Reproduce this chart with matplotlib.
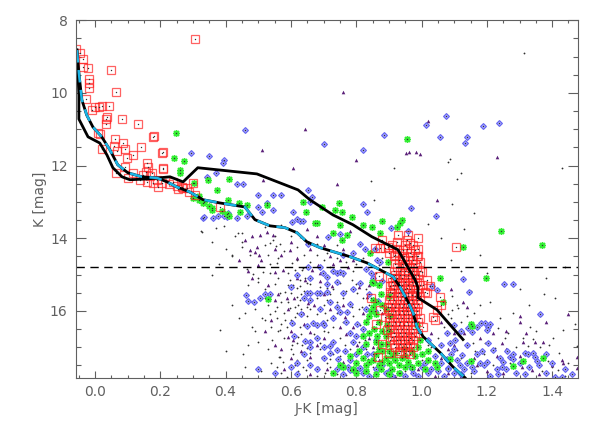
import matplotlib
matplotlib.use("Agg")
import matplotlib.pyplot as plt
from matplotlib.ticker import MultipleLocator

# isochrones (J-K, K)
iso1_jk = [-0.055, -0.049, -0.049, -0.021, 0.015, 0.037, 0.055, 0.083, 0.107, 0.159, 0.230, 0.270,
           0.315, 0.496, 0.622, 0.658, 0.729, 0.790, 0.848, 0.928, 0.980, 0.989, 0.989, 1.047, 1.127]
iso1_k = [8.82, 10.06, 10.72, 11.21, 11.38, 11.71, 12.06, 12.31, 12.39, 12.37, 12.31, 12.45,
          12.06, 12.23, 12.67, 12.94, 13.36, 13.63, 13.96, 14.32, 15.14, 15.36, 15.64, 15.97, 16.79]

iso2_jk = [-0.055, -0.049, -0.040, -0.025, -0.006, 0.021, 0.046, 0.070, 0.101, 0.144, 0.190, 0.221,
           0.251, 0.291, 0.331, 0.383, 0.459, 0.490, 0.536, 0.582, 0.619, 0.649, 0.689, 0.781,
           0.833, 0.873, 0.913, 0.934, 0.956, 0.974, 0.986, 1.005, 1.057, 1.096, 1.133]
iso2_k = [8.82, 9.45, 10.19, 10.61, 10.94, 11.21, 11.57, 11.98, 12.20, 12.31, 12.34, 12.45,
          12.59, 12.73, 12.94, 13.03, 13.14, 13.49, 13.66, 13.71, 13.85, 14.10, 14.26, 14.51,
          14.68, 14.87, 15.06, 15.34, 15.70, 16.05, 16.44, 16.71, 17.15, 17.54, 17.84]

k_limit = 14.8

# red squares
red = [(-0.057, 8.79), (-0.046, 8.90), (-0.037, 9.07), (-0.037, 9.28), (-0.021, 9.32), (-0.018, 9.62),
       (-0.018, 9.72), (-0.018, 9.86), (-0.028, 10.17), (0.049, 9.37), (0.064, 9.98), (0.306, 8.51),
       (0.0, 10.38), (-0.009, 10.47), (0.012, 10.38), (0.021, 10.36), (0.043, 10.36), (0.037, 10.66),
       (0.034, 10.86), (0.083, 10.72), (0.132, 10.86), (0.009, 11.1), (0.021, 11.55), (0.061, 11.27),
       (0.086, 11.38), (0.067, 11.6), (0.092, 11.55), (0.116, 11.71), (0.098, 11.79), (0.141, 11.49),
       (0.181, 11.18), (0.208, 11.62), (0.159, 11.93), (0.162, 12.03), (0.064, 12.2), (0.156, 12.17),
       (0.175, 12.2), (0.208, 12.06), (0.190, 12.39), (0.205, 12.47), (0.239, 12.45), (0.266, 12.58),
       (0.282, 12.61), (0.300, 12.47), (0.288, 12.74), (0.306, 12.80), (0.116, 12.2), (0.138, 12.39),
       (0.159, 12.45), (0.178, 12.47), (0.193, 12.58), (0.101, 12.34), (0.092, 12.03), (0.015, 11.13),
       (0.178, 11.21), (0.205, 11.65), (0.208, 12.1), (0.034, 10.72), (0.226, 12.52), (0.25, 12.55),
       (0.255, 12.65), (0.27, 12.62), (0.147, 12.25), (0.17, 12.3), (0.06, 11.45), (0.383, 13.13),
       (1.105, 14.25),
       (0.879, 14.05), (0.897, 14.24), (0.925, 14.1), (0.955, 14.05), (0.965, 14.13), (0.98, 14.32),
       (0.986, 14.5), (0.995, 14.65), (1.0, 14.93), (1.005, 15.28), (1.01, 15.47), (0.913, 15.28),
       (0.904, 15.47), (0.919, 15.09), (0.94, 14.54), (0.949, 14.73), (0.959, 14.93), (0.971, 15.09),
       (0.943, 14.32), (0.934, 15.0), (0.955, 15.36), (0.971, 15.56), (0.888, 14.27), (0.928, 13.9),
       (0.959, 13.9), (0.989, 14.0), (0.919, 14.46), (0.873, 14.27), (0.858, 14.27), (0.904, 15.33),
       (0.897, 15.89), (0.873, 15.97), (0.888, 16.16), (0.894, 16.52), (0.91, 16.71), (0.934, 16.8),
       (0.965, 16.74), (0.974, 16.99), (0.965, 17.2), (0.867, 17.26), (1.026, 15.33), (1.057, 15.61),
       (1.047, 15.97), (1.035, 16.16), (1.017, 15.5), (1.017, 15.14), (1.04, 16.24), (1.005, 16.44),
       (0.93, 14.6), (0.96, 14.6), (0.975, 14.6), (0.925, 14.8), (0.945, 14.8), (0.965, 14.8), (0.985, 14.8),
       (0.92, 15.0), (0.945, 15.0), (0.96, 15.0), (0.98, 15.0), (0.99, 15.0),
       (0.91, 15.2), (0.93, 15.2), (0.95, 15.2), (0.97, 15.2), (0.985, 15.2),
       (0.915, 15.4), (0.935, 15.4), (0.95, 15.4), (0.965, 15.4), (0.99, 15.4),
       (0.905, 15.6), (0.925, 15.6), (0.94, 15.6), (0.96, 15.6), (0.98, 15.6), (0.995, 15.6),
       (0.91, 15.8), (0.93, 15.8), (0.945, 15.8), (0.96, 15.8), (0.975, 15.8), (0.99, 15.8),
       (0.90, 16.0), (0.92, 16.0), (0.94, 16.0), (0.955, 16.0), (0.97, 16.0), (0.985, 16.0),
       (0.905, 16.2), (0.925, 16.2), (0.94, 16.2), (0.96, 16.2), (0.975, 16.2), (0.995, 16.2),
       (0.91, 16.4), (0.93, 16.4), (0.945, 16.4), (0.96, 16.4), (0.98, 16.4),
       (0.915, 16.6), (0.935, 16.6), (0.95, 16.6), (0.97, 16.6), (0.99, 16.6),
       (0.905, 16.8), (0.925, 16.8), (0.945, 16.8), (0.96, 16.8), (0.975, 16.8),
       (0.92, 17.0), (0.94, 17.0), (0.955, 17.0), (0.9, 17.15), (0.93, 17.15), (0.95, 17.15),
       (0.90, 14.4), (0.93, 14.4), (0.965, 14.4), (0.91, 14.2), (0.95, 14.2), (0.975, 14.2),
       (0.845, 15.65), (0.86, 16.35), (0.88, 16.9), (0.87, 15.05), (1.06, 15.85),
       (0.915, 14.5), (0.945, 14.5), (0.97, 14.5), (0.99, 14.5), (0.92, 14.7), (0.94, 14.7),
       (0.955, 14.7), (0.98, 14.7), (0.915, 14.9), (0.935, 14.9), (0.95, 14.9), (0.975, 14.9),
       (0.995, 14.9), (0.905, 15.1), (0.925, 15.1), (0.94, 15.1), (0.96, 15.1), (0.98, 15.1),
       (0.92, 15.3), (0.94, 15.3), (0.96, 15.3), (0.975, 15.3), (0.995, 15.3), (0.91, 15.5),
       (0.93, 15.5), (0.945, 15.5), (0.96, 15.5), (0.985, 15.5), (0.9, 15.7), (0.915, 15.7),
       (0.935, 15.7), (0.95, 15.7), (0.97, 15.7), (0.985, 15.7), (0.905, 15.9), (0.92, 15.9),
       (0.94, 15.9), (0.955, 15.9), (0.965, 15.9), (0.98, 15.9), (0.91, 16.1), (0.93, 16.1),
       (0.945, 16.1), (0.96, 16.1), (0.98, 16.1), (0.9, 16.3), (0.92, 16.3), (0.935, 16.3),
       (0.955, 16.3), (0.97, 16.3), (0.99, 16.3), (0.905, 16.5), (0.925, 16.5), (0.94, 16.5),
       (0.955, 16.5), (0.975, 16.5), (0.92, 16.7), (0.94, 16.7), (0.955, 16.7), (0.98, 16.7),
       (0.915, 16.9), (0.935, 16.9), (0.95, 16.9), (0.965, 16.9), (0.935, 17.1), (0.96, 17.1),
       (0.925, 14.3), (0.955, 14.3), (0.99, 14.3)]

# green asterisks
green = [(0.248, 11.1), (0.242, 11.79), (0.26, 12.12), (0.262, 12.2), (0.273, 11.87), (0.346, 12.39),
         (0.41, 12.37), (0.374, 12.67), (0.303, 12.47), (0.318, 12.85), (0.334, 12.99), (0.358, 13.22),
         (0.407, 12.94), (0.441, 13.03), (0.466, 13.08), (0.956, 11.27), (0.637, 12.99), (0.695, 13.13),
         (0.747, 13.03), (0.735, 13.22), (0.756, 13.27), (0.646, 13.27), (0.331, 13.03), (0.358, 13.17),
         (0.444, 13.27), (0.527, 13.08), (0.68, 13.57), (0.404, 13.33), (0.787, 13.41), (0.75, 13.63),
         (0.772, 13.9), (0.756, 14.05), (0.729, 13.85), (0.821, 13.63), (0.848, 13.68), (0.873, 13.85),
         (0.934, 13.57), (0.925, 13.68), (0.94, 13.49), (0.674, 13.57), (0.842, 14.41), (1.127, 14.24),
         (1.057, 15.09), (1.066, 15.75), (0.897, 14.65), (0.848, 15.2), (0.879, 13.54), (1.243, 13.79),
         (1.37, 14.18), (1.198, 15.09), (1.15, 16.36), (1.156, 16.42), (1.372, 17.29), (1.311, 17.37),
         (1.28, 17.51), (1.047, 17.54), (1.15, 17.37), (1.087, 17.32), (0.53, 15.67), (0.41, 13.38),
         (0.851, 15.23), (0.32, 12.95), (0.35, 13.1), (0.30, 12.9), (0.39, 13.25),
         (0.85, 15.9), (0.86, 16.1), (0.87, 16.3), (0.855, 16.5), (0.865, 16.7), (0.875, 16.9),
         (0.88, 17.1), (0.86, 17.2), (0.89, 17.3), (0.9, 17.45), (0.92, 17.35), (0.94, 17.3),
         (0.96, 17.4), (0.98, 17.25), (0.99, 17.45), (0.95, 17.55), (0.91, 17.6), (0.87, 17.5),
         (0.84, 17.4), (0.82, 17.3), (0.8, 17.45), (0.79, 17.6), (0.83, 17.65), (0.86, 17.75),
         (0.93, 17.7), (0.81, 17.1), (0.83, 16.9), (0.84, 16.6), (0.83, 16.3), (0.845, 16.0),
         (0.86, 15.75), (0.875, 15.55), (0.88, 16.55), (0.895, 16.9), (0.9, 17.1), (0.92, 17.15),
         (0.945, 17.05), (0.97, 17.1), (1.0, 17.2), (1.02, 17.35), (1.04, 17.45), (0.905, 16.15),
         (0.89, 15.95), (0.895, 16.4), (0.875, 17.6), (0.75, 17.5), (0.73, 17.7), (0.78, 17.25),
         (0.995, 16.8), (0.985, 16.4), (1.01, 17.6),
         (0.82, 16.7), (0.83, 17.5), (0.85, 17.35), (0.87, 17.05), (0.89, 16.7), (0.91, 17.25),
         (0.93, 17.5), (0.95, 17.25), (0.97, 17.55), (0.88, 17.4), (0.86, 16.85), (0.84, 16.15),
         (0.85, 15.7), (0.88, 15.85), (0.9, 16.55), (0.76, 17.55), (0.8, 17.7), (0.9, 17.75),
         (0.99, 17.0), (1.02, 17.1), (0.87, 15.3), (0.9, 15.6)]

# blue diamonds
blue = [(0.459, 11.02), (0.294, 11.65), (0.349, 11.73), (0.395, 11.84), (0.392, 11.93), (0.37, 12.2),
        (0.343, 12.31), (0.435, 12.5), (0.453, 12.5), (0.499, 12.8), (0.545, 12.8), (0.57, 12.8),
        (0.527, 13.03), (0.499, 13.13), (0.545, 13.22), (0.606, 13.27), (0.407, 13.3), (1.075, 10.63),
        (1.014, 10.88), (1.188, 10.9), (1.237, 10.82), (1.057, 11.21), (1.139, 11.21), (1.133, 11.38),
        (0.885, 11.16), (0.701, 11.41), (0.821, 11.57), (0.652, 12.67), (0.665, 12.86), (0.658, 13.0),
        (0.821, 13.05), (0.833, 13.29), (0.968, 13.16), (1.044, 13.38), (1.127, 15.11), (1.253, 15.27),
        (1.28, 15.27), (1.363, 16.08), (1.21, 16.36), (0.331, 13.45), (0.361, 13.45), (0.376, 13.4),
        (0.404, 13.43), (0.435, 13.45), (0.511, 13.27), (0.619, 13.47), (0.628, 13.52), (0.637, 13.52),
        (0.603, 13.55), (0.334, 13.43), (0.395, 13.4), (0.466, 13.4),
        (0.462, 15.56), (0.469, 15.73), (0.487, 15.75), (0.505, 15.64), (0.521, 15.53), (0.536, 15.53),
        (0.649, 15.5), (0.649, 16.41), (0.699, 14.95), (0.741, 14.95), (0.75, 14.93), (0.71, 15.06),
        (0.812, 15.23), (0.658, 15.5), (0.689, 15.5), (0.741, 15.89), (0.75, 16.02), (0.668, 16.33),
        (0.68, 16.38), (0.699, 16.33), (0.781, 16.6), (0.72, 16.98), (0.741, 17.07), (0.79, 16.85),
        (0.744, 17.34), (0.775, 17.54), (0.79, 17.62), (0.812, 17.57), (0.652, 14.79), (0.603, 16.33),
        (0.652, 14.15), (0.713, 13.96), (0.75, 13.88), (0.812, 14.15), (0.827, 14.29), (0.858, 14.29),
        (0.879, 15.17), (0.867, 15.72), (0.858, 16.0), (0.68, 15.5), (0.71, 15.47), (0.741, 15.2),
        (0.781, 15.8), (0.772, 16.02), (0.802, 16.35), (0.643, 16.82), (0.658, 16.85), (0.729, 16.85),
        (0.766, 17.1), (0.821, 16.99), (0.833, 17.18), (0.781, 17.64), (0.802, 17.64), (0.904, 17.64),
        (0.934, 17.72), (0.974, 17.72), (0.965, 17.51),
        (1.146, 15.47), (1.155, 16.57), (1.142, 16.46), (1.17, 16.44), (1.183, 16.33), (1.194, 16.33),
        (1.204, 16.44), (1.2, 16.52), (1.103, 16.79), (1.087, 16.88), (1.124, 17.21), (1.185, 17.12),
        (1.219, 17.07), (1.262, 17.12), (1.271, 17.26), (1.28, 17.34), (1.25, 17.4), (1.247, 17.54),
        (1.2, 17.4), (1.179, 17.43), (1.155, 17.54), (1.317, 17.15), (1.326, 17.2), (1.354, 17.37),
        (1.348, 17.26), (1.302, 17.43), (1.234, 17.75), (1.409, 17.81), (1.43, 17.81), (1.317, 17.75),
        (1.078, 16.6), (1.078, 17.34), (1.081, 17.57), (1.118, 17.48), (1.204, 16.88),
        (0.88, 17.5), (1.0, 17.55), (1.02, 17.7), (1.05, 17.65), (1.07, 17.8), (1.1, 17.7), (1.13, 17.6),
        (0.6, 17.55), (0.55, 17.7), (0.5, 17.6), (0.62, 17.75), (0.68, 17.6), (0.7, 17.3), (0.66, 17.0),
        (0.864, 14.6), (0.873, 14.65), (1.032, 15.33), (1.047, 15.42), (0.959, 13.79), (0.907, 13.71),
        (0.83, 14.85), (0.845, 14.95), (0.85, 15.1),
        (0.72, 17.15), (0.74, 17.6), (0.76, 17.75), (0.78, 17.35), (0.8, 17.2), (0.82, 17.7),
        (0.84, 17.8), (0.86, 17.6), (0.89, 17.7), (0.91, 17.8), (0.95, 17.8), (0.97, 17.6),
        (0.99, 17.8), (1.01, 17.45), (1.03, 17.6), (1.04, 17.25), (1.06, 17.45), (1.08, 17.6),
        (1.09, 17.2), (1.11, 17.35), (1.12, 17.75), (1.14, 17.45), (1.16, 17.65), (1.17, 17.2),
        (1.19, 17.5), (1.21, 17.8), (1.23, 17.6), (1.26, 17.6), (1.29, 17.7), (1.33, 17.55),
        (1.36, 17.5), (1.38, 17.7), (1.4, 17.45), (1.44, 17.6), (1.46, 17.75), (1.12, 16.55),
        (1.1, 16.4), (1.02, 16.8), (1.06, 16.95), (1.1, 17.05), (1.14, 16.95), (1.24, 17.3),
        (1.28, 17.2), (1.34, 17.15), (1.38, 17.2), (0.68, 16.75), (0.7, 17.0), (0.64, 17.2),
        (0.62, 17.45), (0.66, 17.5), (0.7, 16.4), (0.73, 16.2), (0.66, 15.7), (0.69, 15.95),
        (0.72, 15.75), (0.76, 15.5), (0.79, 15.4), (0.71, 15.25), (0.66, 15.1), (0.69, 14.8),
        (0.73, 14.9), (0.76, 14.95), (0.79, 14.4), (0.76, 14.45), (0.77, 16.3), (0.8, 16.7),
        (0.82, 16.5), (0.83, 15.95), (0.84, 15.55), (0.86, 16.8), (0.85, 17.2), (0.62, 15.0),
        (0.64, 15.65), (0.63, 16.1), (0.61, 16.7), (0.6, 15.35)]

# field stars: purple triangles and black dots
purple = [(0.475, 14.32), (0.49, 14.38), (0.502, 14.45), (0.496, 14.24), (0.505, 13.9), (0.527, 13.82),
          (0.545, 13.9), (0.551, 14.92), (0.576, 14.87), (0.551, 15.69), (0.588, 15.64), (0.591, 16.71),
          (0.607, 16.79), (0.597, 14.32), (0.643, 15.14), (0.665, 14.87), (0.683, 14.73), (0.775, 14.79),
          (0.726, 15.33), (0.652, 15.78), (0.833, 15.61), (0.766, 16.16), (0.637, 16.05), (0.658, 16.57),
          (0.75, 16.44), (0.833, 16.19), (0.802, 16.93), (0.658, 17.26), (0.759, 9.97), (0.643, 10.99),
          (1.02, 10.77), (0.953, 11.65), (0.962, 11.63), (0.983, 11.63), (0.995, 11.68), (0.8, 11.84),
          (1.231, 11.76), (0.741, 12.5), (1.047, 12.94), (0.511, 11.57), (0.515, 12.39), (0.607, 12.07),
          (1.127, 15.75), (1.302, 16.13), (1.363, 16.1), (1.311, 16.85), (1.348, 16.85), (1.372, 16.85),
          (1.247, 16.88), (1.308, 17.54), (1.338, 17.62), (1.4, 17.5), (1.433, 17.45), (1.476, 17.26),
          (1.476, 17.58), (1.32, 16.62), (1.26, 16.55), (1.3, 16.3), (1.38, 16.3), (1.45, 16.1),
          (1.17, 17.5), (1.2, 17.65), (1.25, 17.7), (1.06, 17.3), (1.08, 17.05), (1.1, 16.6),
          (0.72, 15.95), (0.7, 16.75), (0.76, 17.4), (0.85, 17.0), (0.62, 15.1), (0.69, 15.18),
          (0.73, 14.7), (0.6, 16.55), (0.55, 16.95), (0.58, 17.6), (0.66, 17.75), (0.8, 17.75),
          (0.98, 17.75), (1.04, 17.8), (0.48, 13.95), (0.44, 14.6), (0.46, 14.05), (0.51, 14.6),
          (0.57, 14.45), (0.6, 14.1), (0.63, 13.95), (0.66, 14.3), (0.7, 14.2), (0.76, 14.3), (0.78, 13.8),
          (0.48, 15.1), (0.5, 14.75), (0.53, 15.3), (0.56, 15.55), (0.59, 15.95), (0.61, 15.65),
          (0.64, 16.35), (0.67, 15.85), (0.7, 15.55), (0.73, 16.15), (0.76, 15.85), (0.79, 16.45),
          (0.82, 16.05), (0.84, 16.75), (0.63, 17.1), (0.68, 16.95), (0.71, 17.6), (0.74, 17.05),
          (0.77, 16.65), (0.8, 17.15), (0.57, 17.05), (0.54, 16.25), (0.6, 17.3), (0.52, 16.55),
          (0.66, 15.45), (0.69, 14.95), (0.72, 14.5), (0.75, 14.6), (0.79, 14.6), (0.81, 15.35),
          (0.84, 15.3), (0.86, 15.2), (0.85, 14.95), (0.88, 16.05), (0.87, 17.35), (0.92, 17.8),
          (0.99, 17.6), (1.03, 17.55), (1.08, 17.7), (1.12, 17.8), (1.16, 17.3), (1.23, 17.25),
          (1.26, 17.05), (1.3, 17.25), (1.36, 17.75), (1.43, 17.35), (1.1, 16.95), (1.13, 16.6),
          (1.18, 16.75), (1.22, 16.6), (1.06, 16.3), (1.03, 16.6), (1.09, 15.4), (1.14, 15.9),
          (0.47, 14.9), (0.55, 14.3), (0.62, 14.55), (0.68, 13.95), (0.65, 13.75)]

black = [(0.328, 13.82), (0.358, 14.1), (0.438, 13.85), (0.45, 13.85), (0.42, 14.45), (0.45, 14.24),
         (0.475, 14.45), (0.521, 14.18), (0.536, 14.13), (0.545, 14.05), (0.554, 14.21), (0.567, 14.15),
         (0.466, 14.84), (0.5, 15.09), (0.515, 14.92), (0.536, 14.95), (0.557, 14.68), (0.591, 14.95),
         (0.597, 15.14), (0.607, 15.28), (0.582, 15.47), (0.567, 15.5), (0.619, 15.61), (0.622, 15.83),
         (0.597, 15.91), (0.557, 15.89), (0.536, 16.1), (0.511, 16.19), (0.521, 16.24), (0.557, 16.19),
         (0.582, 16.24), (0.588, 16.44), (0.567, 16.52), (0.603, 16.93), (0.622, 16.71), (0.542, 16.79),
         (0.383, 16.52), (0.453, 17.2), (0.567, 17.26), (0.576, 17.4), (0.613, 17.48), (0.622, 17.67),
         (0.588, 17.81), (0.628, 15.33), (0.634, 14.87), (0.643, 15.09), (0.649, 15.23), (0.613, 16.16),
         (0.637, 16.05), (0.649, 15.89), (0.643, 16.88), (0.634, 16.93), (0.649, 17.02), (0.646, 17.62),
         (0.619, 14.59), (0.536, 14.7), (0.483, 14.98), (0.325, 13.79), (0.37, 13.71), (0.395, 13.66),
         (0.42, 14.48), (0.564, 17.26), (0.557, 17.54), (0.603, 14.68), (0.612, 14.87), (0.637, 14.81),
         (0.628, 15.14), (0.72, 14.79), (0.787, 15.14), (0.75, 15.23), (0.71, 15.36), (0.619, 15.36),
         (0.628, 15.69), (0.68, 15.64), (0.71, 15.69), (0.76, 15.64), (0.802, 15.5), (0.818, 15.89),
         (0.787, 15.89), (0.729, 16.16), (0.704, 16.05), (0.612, 15.9), (0.628, 16.44), (0.714, 16.57),
         (0.812, 16.38), (0.827, 16.79), (0.766, 16.93), (0.689, 16.88), (0.649, 16.85), (0.619, 16.88),
         (0.607, 17.2), (0.695, 17.26), (0.72, 17.34), (0.683, 17.54), (0.637, 17.54), (0.704, 17.7),
         (0.818, 17.26), (0.836, 17.34), (0.622, 17.75), (0.741, 17.73), (1.314, 8.9), (1.375, 15.53),
         (1.112, 15.91), (1.093, 15.99), (1.081, 16.1), (1.234, 16.46), (1.265, 16.6), (1.332, 16.44),
         (1.433, 16.52), (1.403, 16.74), (1.326, 16.96), (1.225, 17.02), (1.194, 16.88), (1.164, 17.12),
         (1.158, 16.88), (1.139, 16.99), (1.109, 17.07), (1.369, 17.67), (1.4, 17.56), (1.418, 17.62),
         (1.387, 17.37), (1.093, 15.59), (1.109, 15.83), (1.087, 16.35), (1.461, 17.75), (1.476, 16.96),
         (1.363, 17.0), (1.41, 17.76), (1.44, 17.8), (1.256, 16.74), (1.341, 16.77), (1.087, 11.82),
         (1.081, 11.9), (1.121, 12.2), (1.109, 12.37), (0.845, 12.42), (1.43, 12.07), (0.855, 12.94),
         (1.093, 13.05), (0.916, 12.07), (0.68, 14.45), (0.7, 14.6), (0.74, 14.55), (0.77, 14.65),
         (0.79, 14.9), (0.8, 14.7), (0.82, 14.55), (0.83, 15.4), (0.84, 16.2), (0.82, 16.6),
         (0.47, 15.3), (0.49, 15.95), (0.52, 15.4), (0.53, 15.85), (0.54, 16.45), (0.55, 16.0),
         (0.56, 15.1), (0.57, 15.75), (0.58, 16.05), (0.59, 15.3), (0.6, 15.5), (0.61, 16.35),
         (0.62, 16.05), (0.63, 15.95), (0.64, 15.45), (0.65, 16.15), (0.66, 15.95), (0.67, 16.65),
         (0.68, 16.1), (0.69, 15.35), (0.7, 15.85), (0.71, 16.25), (0.72, 15.55), (0.73, 16.45),
         (0.74, 15.75), (0.75, 16.75), (0.76, 16.3), (0.77, 15.45), (0.78, 16.55), (0.79, 16.15),
         (0.8, 15.25), (0.81, 16.85), (0.82, 15.65), (0.83, 17.05), (0.84, 15.85), (0.85, 16.45),
         (0.86, 14.95), (0.87, 14.75), (0.88, 14.55), (0.66, 17.15), (0.69, 17.05), (0.72, 17.55),
         (0.75, 17.25), (0.78, 17.05), (0.8, 17.35), (0.62, 17.35), (0.6, 17.05), (0.58, 16.75),
         (0.56, 16.55), (0.53, 17.05), (0.5, 16.85), (0.48, 16.45), (0.46, 17.55), (0.51, 17.65),
         (0.54, 17.45), (0.57, 17.7), (0.68, 17.8), (0.73, 17.2), (0.77, 17.78), (0.44, 16.2),
         (0.42, 15.85), (0.4, 17.1), (0.47, 16.95), (0.5, 15.2), (0.53, 14.45), (0.56, 14.55),
         (0.58, 14.35), (0.6, 13.95), (0.62, 14.25), (0.64, 14.45), (0.66, 14.65), (0.68, 14.15),
         (0.71, 14.4), (0.74, 14.2), (0.77, 14.45), (0.45, 14.1), (0.43, 13.95), (0.4, 14.3),
         (0.38, 14.7), (0.36, 15.0), (0.52, 13.7), (0.57, 13.65), (0.55, 13.95), (0.64, 14.05),
         (0.7, 14.95), (0.66, 15.25), (0.59, 15.75), (0.55, 15.25), (0.52, 15.65), (0.49, 16.55),
         (0.46, 16.05), (0.6, 16.25), (0.63, 16.65), (0.67, 16.4), (0.7, 16.55), (0.74, 16.05),
         (0.78, 15.75), (0.81, 15.95), (0.76, 15.05), (0.73, 15.4), (0.63, 15.55), (0.57, 16.35),
         (0.65, 17.35), (0.71, 17.45), (0.79, 17.55), (0.85, 17.55), (0.9, 17.8), (0.95, 17.65),
         (1.0, 17.35), (1.03, 17.0), (1.05, 16.75), (1.07, 16.45), (1.09, 16.2), (1.12, 16.3),
         (1.14, 16.15), (1.16, 16.05), (1.18, 15.85), (1.02, 16.95), (1.06, 17.15), (1.12, 17.3),
         (1.15, 17.7), (1.19, 17.2), (1.22, 17.5), (1.27, 17.45), (1.29, 17.0), (1.31, 16.75),
         (1.35, 16.55), (1.39, 16.95), (1.42, 17.15), (1.45, 17.45), (1.24, 16.2), (1.28, 16.05),
         (1.33, 15.85), (1.41, 15.65), (1.47, 16.35), (1.21, 15.75), (1.15, 15.45), (1.12, 14.9),
         (1.09, 14.6), (1.18, 14.45), (1.2, 14.95), (1.3, 15.4), (1.38, 15.1), (1.44, 14.8),
         (1.16, 13.3), (1.02, 13.6), (1.06, 14.0), (1.13, 13.75)]


def cols(pts):
    return [p[0] for p in pts], [p[1] for p in pts]


fig = plt.figure(figsize=(5.98, 4.28), dpi=100)
ax = fig.add_axes([0.127, 0.1168, 0.8395, 0.8358])

gray = "#606060"

bx, by = cols(black)
px, py = cols(purple)
ax.plot(bx, by, ls="none", marker="o", ms=1.3, color="#303030", mew=0)
ax.plot(px, py, ls="none", marker="^", ms=2.6, color="#5a1f78", mew=0)

ux, uy = cols(blue)
ax.plot(ux, uy, ls="none", marker="D", ms=3.0, mfc="#a8a8ff", mec="#6464f0", mew=0.8)

gx, gy = cols(green)
ax.plot(gx, gy, ls="none", marker=(8, 2, 0), ms=5.0, color="#33ee33", mew=1.0)

rx, ry = cols(red)
ax.plot(rx, ry, ls="none", marker="s", ms=6.0, mfc="none", mec="#ff2020", mew=0.9, alpha=0.7)

# every member star also has its dot in the centre
for xs, ys in [(ux, uy), (gx, gy), (rx, ry)]:
    ax.plot(xs, ys, ls="none", marker="o", ms=1.0, color="#303030", mew=0)

ax.axhline(k_limit, color="black", lw=1.0, dashes=(6, 4))

ax.plot(iso1_jk, iso1_k, color="black", lw=2.0)
ax.plot(iso2_jk, iso2_k, color="black", lw=2.0)
ax.plot(iso2_jk, iso2_k, color="#1ab4e6", lw=1.8, dashes=(5, 3))

ax.set_xlim(-0.058, 1.479)
ax.set_ylim(17.85, 8.0)

ax.xaxis.set_major_locator(MultipleLocator(0.2))
ax.xaxis.set_minor_locator(MultipleLocator(0.05))
ax.yaxis.set_major_locator(MultipleLocator(2))
ax.yaxis.set_minor_locator(MultipleLocator(0.5))
ax.xaxis.set_major_formatter(plt.FuncFormatter(lambda v, p: "%.1f" % v))
ax.yaxis.set_major_formatter(plt.FuncFormatter(lambda v, p: "%d" % round(v)))

ax.tick_params(which="both", direction="in", top=True, right=True, color=gray,
               labelcolor=gray, labelsize=10, width=0.8)
ax.tick_params(axis="x", which="major", length=5, pad=5)
ax.tick_params(axis="x", which="minor", length=2.5)
ax.tick_params(axis="y", which="major", length=7, pad=6)
ax.tick_params(axis="y", which="minor", length=3.5)
for s in ax.spines.values():
    s.set_color(gray)
    s.set_linewidth(0.8)

ax.set_xlabel("J-K [mag]", color=gray, fontsize=10)
ax.set_ylabel("K [mag]", color=gray, fontsize=10)
ax.xaxis.set_label_coords(0.5, -0.068)
ax.yaxis.set_label_coords(-0.058, 0.5)

fig.savefig("out.png", dpi=100)
